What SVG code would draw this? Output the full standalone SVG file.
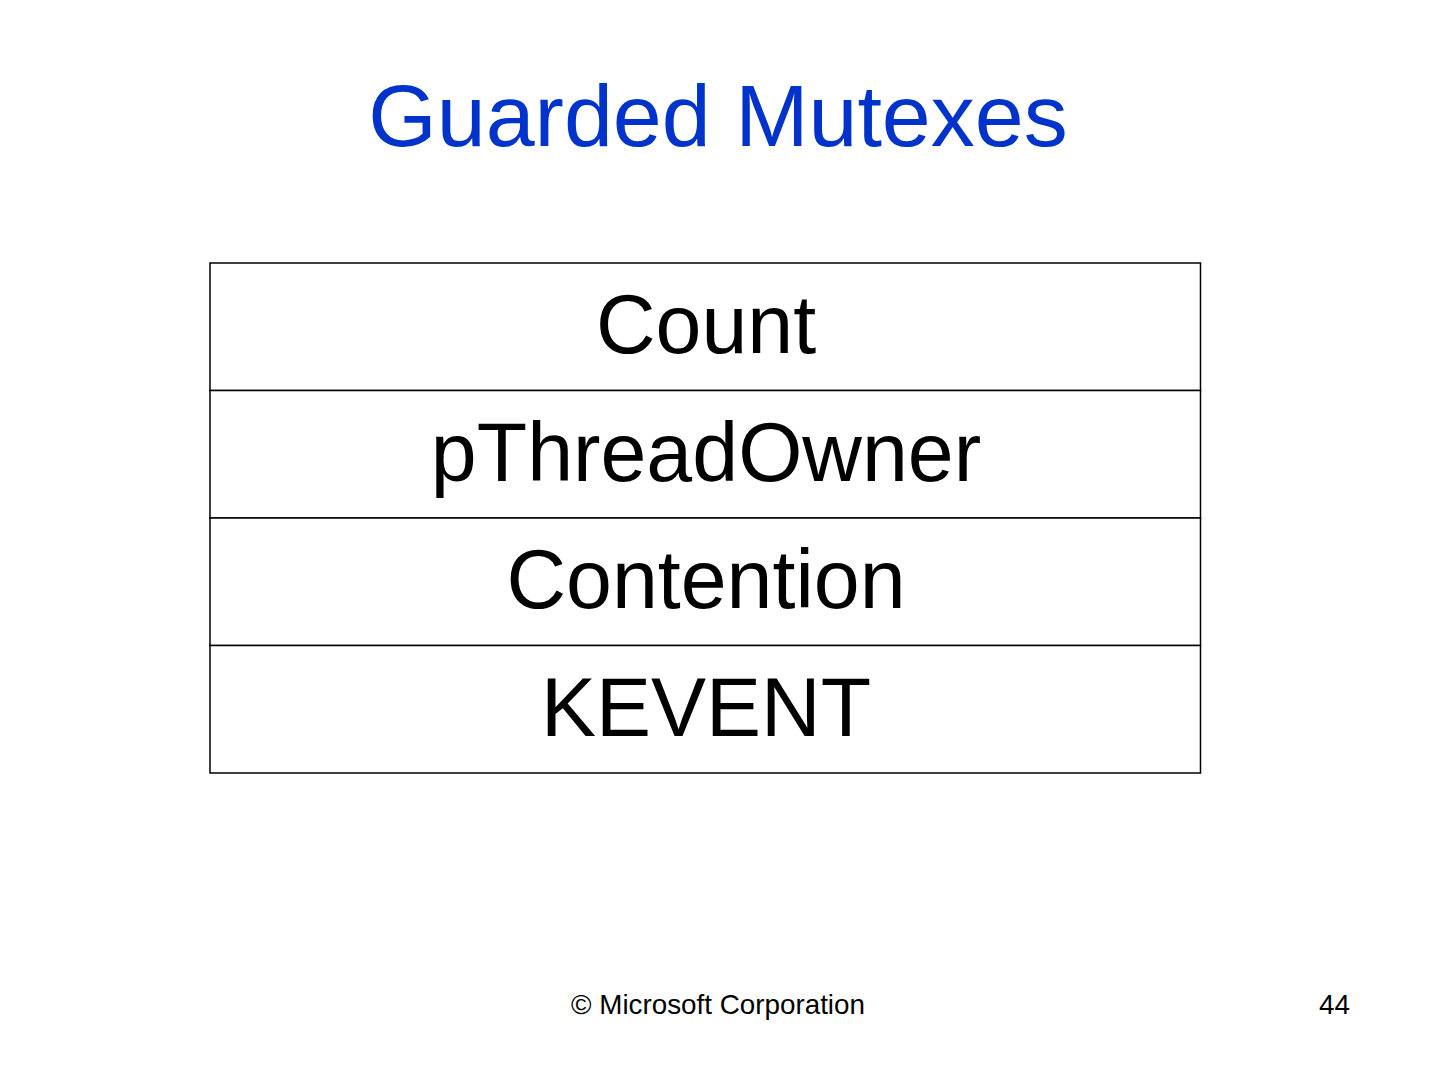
<svg xmlns="http://www.w3.org/2000/svg" width="1436" height="1074" viewBox="0 0 1436 1074">
<style>
.title{font-family:"Liberation Sans",Arial,sans-serif;font-size:88px;fill:#0033CC;text-anchor:middle}
.cell{fill:#FFFFFF;stroke:#000000;stroke-width:1.5}
.lbl{font-family:"Liberation Sans",Arial,sans-serif;font-size:82.5px;fill:#000000;text-anchor:middle}
.foot{font-family:"Liberation Sans",Arial,sans-serif;font-size:27.8px;fill:#000000}
</style>
<rect width="1436" height="1074" fill="#FFFFFF"/>
<text class="title" x="718" y="146">Guarded Mutexes</text>
<g id="count"><rect class="cell" x="210" y="263" width="990.5" height="127.5"/><text class="lbl" x="706" y="353">Count</text></g>
<g id="pThreadOwner"><rect class="cell" x="210" y="390.5" width="990.5" height="127.5"/><text class="lbl" x="706" y="481">pThreadOwner</text></g>
<g id="contention"><rect class="cell" x="210" y="518" width="990.5" height="127.5"/><text class="lbl" x="706" y="608">Contention</text></g>
<g id="kevent"><rect class="cell" x="210" y="645.5" width="990.5" height="127.5"/><text class="lbl" x="706" y="736">KEVENT</text></g>
<g id="connectors"></g>
<text class="foot" x="718" y="1014" text-anchor="middle">© Microsoft Corporation</text>
<text class="foot" x="1350" y="1014" text-anchor="end">44</text>
</svg>
